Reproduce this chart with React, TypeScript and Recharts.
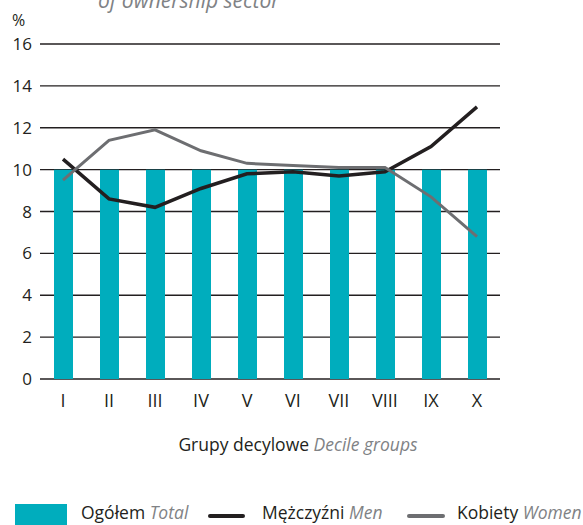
import React from 'react';
import {
  ComposedChart,
  Bar,
  Line,
  XAxis,
  YAxis,
  CartesianGrid,
  Legend
} from 'recharts';

const categories = ['I', 'II', 'III', 'IV', 'V', 'VI', 'VII', 'VIII', 'IX', 'X'];
const totalValues = [10, 10, 10, 10, 10, 10, 10, 10, 10, 10];
const menValues = [10.5, 8.6, 8.2, 9.1, 9.8, 9.9, 9.7, 9.9, 11.1, 13.0];
const womenValues = [9.5, 11.4, 11.9, 10.9, 10.3, 10.2, 10.1, 10.1, 8.7, 6.8];
const yTicks = [0, 2, 4, 6, 8, 10, 12, 14, 16];

const TEAL = '#00adbd';
const BLACK = '#231f20';
const GREY = '#6d6e71';
const ITALIC_GREY = '#808285';
const FONT = '"Open Sans", sans-serif';

const data = categories.map((name, i) => ({
  name,
  total: totalValues[i],
  men: menValues[i],
  women: womenValues[i]
}));

const AxisTitle = (props: any) => {
  const { viewBox } = props;
  return (
    <text x={298} y={viewBox.y + 72} textAnchor="middle" fontFamily={FONT} fontSize={17.5} fill={BLACK}>
      Grupy decylowe <tspan fill={ITALIC_GREY} fontStyle="italic">Decile groups</tspan>
    </text>
  );
};

const textStyle: React.CSSProperties = { position: 'absolute', top: 1, lineHeight: '20px', whiteSpace: 'nowrap' };

const LegendContent = () => (
  <div style={{ position: 'relative', height: 24, fontFamily: FONT, fontSize: 17.5, color: BLACK }}>
    <span style={{ position: 'absolute', left: 15, top: 3, width: 52, height: 21, background: TEAL }} />
    <span style={{ ...textStyle, left: 81 }}>
      Ogółem <i style={{ color: ITALIC_GREY }}>Total</i>
    </span>
    <span style={{ position: 'absolute', left: 208, top: 13, width: 37, height: 4, borderRadius: 2, background: BLACK }} />
    <span style={{ ...textStyle, left: 262 }}>
      Mężczyźni <i style={{ color: ITALIC_GREY }}>Men</i>
    </span>
    <span style={{ position: 'absolute', left: 407, top: 13, width: 38, height: 4, borderRadius: 2, background: GREY }} />
    <span style={{ ...textStyle, left: 457 }}>
      Kobiety <i style={{ color: ITALIC_GREY }}>Women</i>
    </span>
  </div>
);

export default function App() {
  return (
    <div style={{ position: 'absolute', left: 0, top: 0, width: 583, height: 525, overflow: 'hidden', background: '#fff' }}>
      <div style={{ position: 'absolute', left: 98, top: -12, lineHeight: '24px', fontFamily: FONT, fontSize: 21, fontStyle: 'italic', color: ITALIC_GREY, whiteSpace: 'nowrap' }}>
        of ownership sector
      </div>
      <div style={{ position: 'absolute', left: 12, top: 10, lineHeight: '20px', fontFamily: FONT, fontSize: 16, color: BLACK }}>%</div>
      <ComposedChart
        width={583}
        height={525}
        data={data}
        margin={{ top: 44, right: 83, left: 0, bottom: 0 }}
        barCategoryGap={0}
      >
        <CartesianGrid vertical={false} stroke={BLACK} strokeWidth={1.3} />
        <XAxis
          dataKey="name"
          axisLine={false}
          tickLine={false}
          interval={0}
          height={122}
          tickMargin={9}
          tick={{ fill: BLACK, fontSize: 18, fontFamily: FONT }}
          label={<AxisTitle />}
        />
        <YAxis
          width={40}
          domain={[0, 16]}
          ticks={yTicks}
          interval={0}
          axisLine={false}
          tickLine={false}
          tick={{ fill: BLACK, fontSize: 17, fontFamily: FONT }}
        />
        <Bar dataKey="total" name="Ogółem Total" fill={TEAL} barSize={19} isAnimationActive={false} />
        <Line dataKey="men" name="Mężczyźni Men" type="linear" stroke={BLACK} strokeWidth={3.5} dot={false} isAnimationActive={false} />
        <Line dataKey="women" name="Kobiety Women" type="linear" stroke={GREY} strokeWidth={3} dot={false} isAnimationActive={false} />
        <Legend verticalAlign="bottom" height={24} wrapperStyle={{ left: 0, bottom: 0, width: 583 }} content={<LegendContent />} />
      </ComposedChart>
    </div>
  );
}
